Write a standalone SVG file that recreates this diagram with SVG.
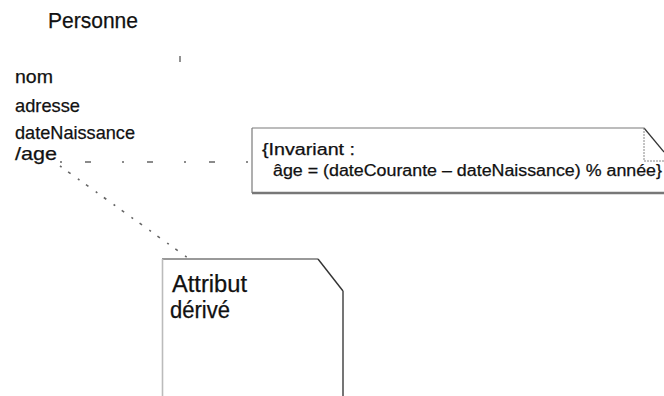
<svg xmlns="http://www.w3.org/2000/svg" width="664" height="396" viewBox="0 0 664 396">
  <style>
    text { font-family: "Liberation Sans", Arial, sans-serif; fill: #111; stroke: #111; stroke-width: 0.25; }
    .title { font-size: 22px; }
    .attr { font-size: 19px; }
    .inv { font-size: 16px; }
    .big { font-size: 23px; }
    .edge { fill: none; stroke: #7a7a7a; stroke-width: 1.2; }
    .dots { fill: none; stroke: #666; stroke-width: 1.6; }
  </style>

  <rect width="664" height="396" fill="#fff"/>

  <!-- class Personne with its attributes -->
  <g id="personne">
    <text class="title" x="48" y="28" textLength="90" lengthAdjust="spacingAndGlyphs">Personne</text>
    <line x1="180" y1="56" x2="180" y2="62" stroke="#777" stroke-width="1.6"/>
    <text class="attr" x="15" y="83" textLength="38" lengthAdjust="spacingAndGlyphs">nom</text>
    <text class="attr" x="15" y="112" textLength="65" lengthAdjust="spacingAndGlyphs">adresse</text>
    <text class="attr" x="15" y="139" textLength="120" lengthAdjust="spacingAndGlyphs">dateNaissance</text>
    <text class="attr" x="15" y="160" textLength="42" lengthAdjust="spacingAndGlyphs">/age</text>
  </g>

  <!-- connectors: dotted anchors from /age to both notes -->
  <g id="connectors">
    <line class="dots" x1="60" y1="162" x2="250" y2="162" stroke-dasharray="2 23 6 31"/>
    <line class="dots" x1="60" y1="166" x2="188" y2="258" stroke-dasharray="2 8 3 9"/>
  </g>

  <!-- invariant note -->
  <g id="note-invariant">
    <path d="M252,128 H644 L664,152 V192 H252 Z" fill="#fff" stroke="none"/>
    <line x1="252" y1="128" x2="644" y2="128" class="edge"/>
    <line x1="252" y1="128" x2="252" y2="193" class="edge"/>
    <line x1="252" y1="193" x2="664" y2="193" stroke="#777" stroke-width="2.6"/>
    <line x1="644" y1="128" x2="664" y2="152" stroke="#333" stroke-width="1.2"/>
    <polyline points="644,128 644,161 664,161" fill="none" stroke="#888" stroke-width="1" stroke-dasharray="2 1"/>
    <text class="inv" x="262" y="155" textLength="93" lengthAdjust="spacingAndGlyphs">{Invariant :</text>
    <text class="inv" x="273" y="176" textLength="389" lengthAdjust="spacingAndGlyphs">âge = (dateCourante – dateNaissance) % année}</text>
  </g>

  <!-- derived attribute note -->
  <g id="note-derive">
    <path d="M162,259 H318 L343,291 V396 H162 Z" fill="#fff" stroke="none"/>
    <line x1="162" y1="259" x2="318" y2="259" stroke="#777" stroke-width="1.4"/>
    <line x1="162.5" y1="259" x2="162.5" y2="396" stroke="#bbb" stroke-width="1.6"/>
    <line x1="318" y1="259" x2="343" y2="291" stroke="#333" stroke-width="1.4"/>
    <line x1="343" y1="291" x2="343" y2="396" stroke="#666" stroke-width="1.8"/>
    <text class="big" x="172" y="292" textLength="75" lengthAdjust="spacingAndGlyphs">Attribut</text>
    <text class="big" x="170" y="318" textLength="60" lengthAdjust="spacingAndGlyphs">dérivé</text>
  </g>
</svg>
